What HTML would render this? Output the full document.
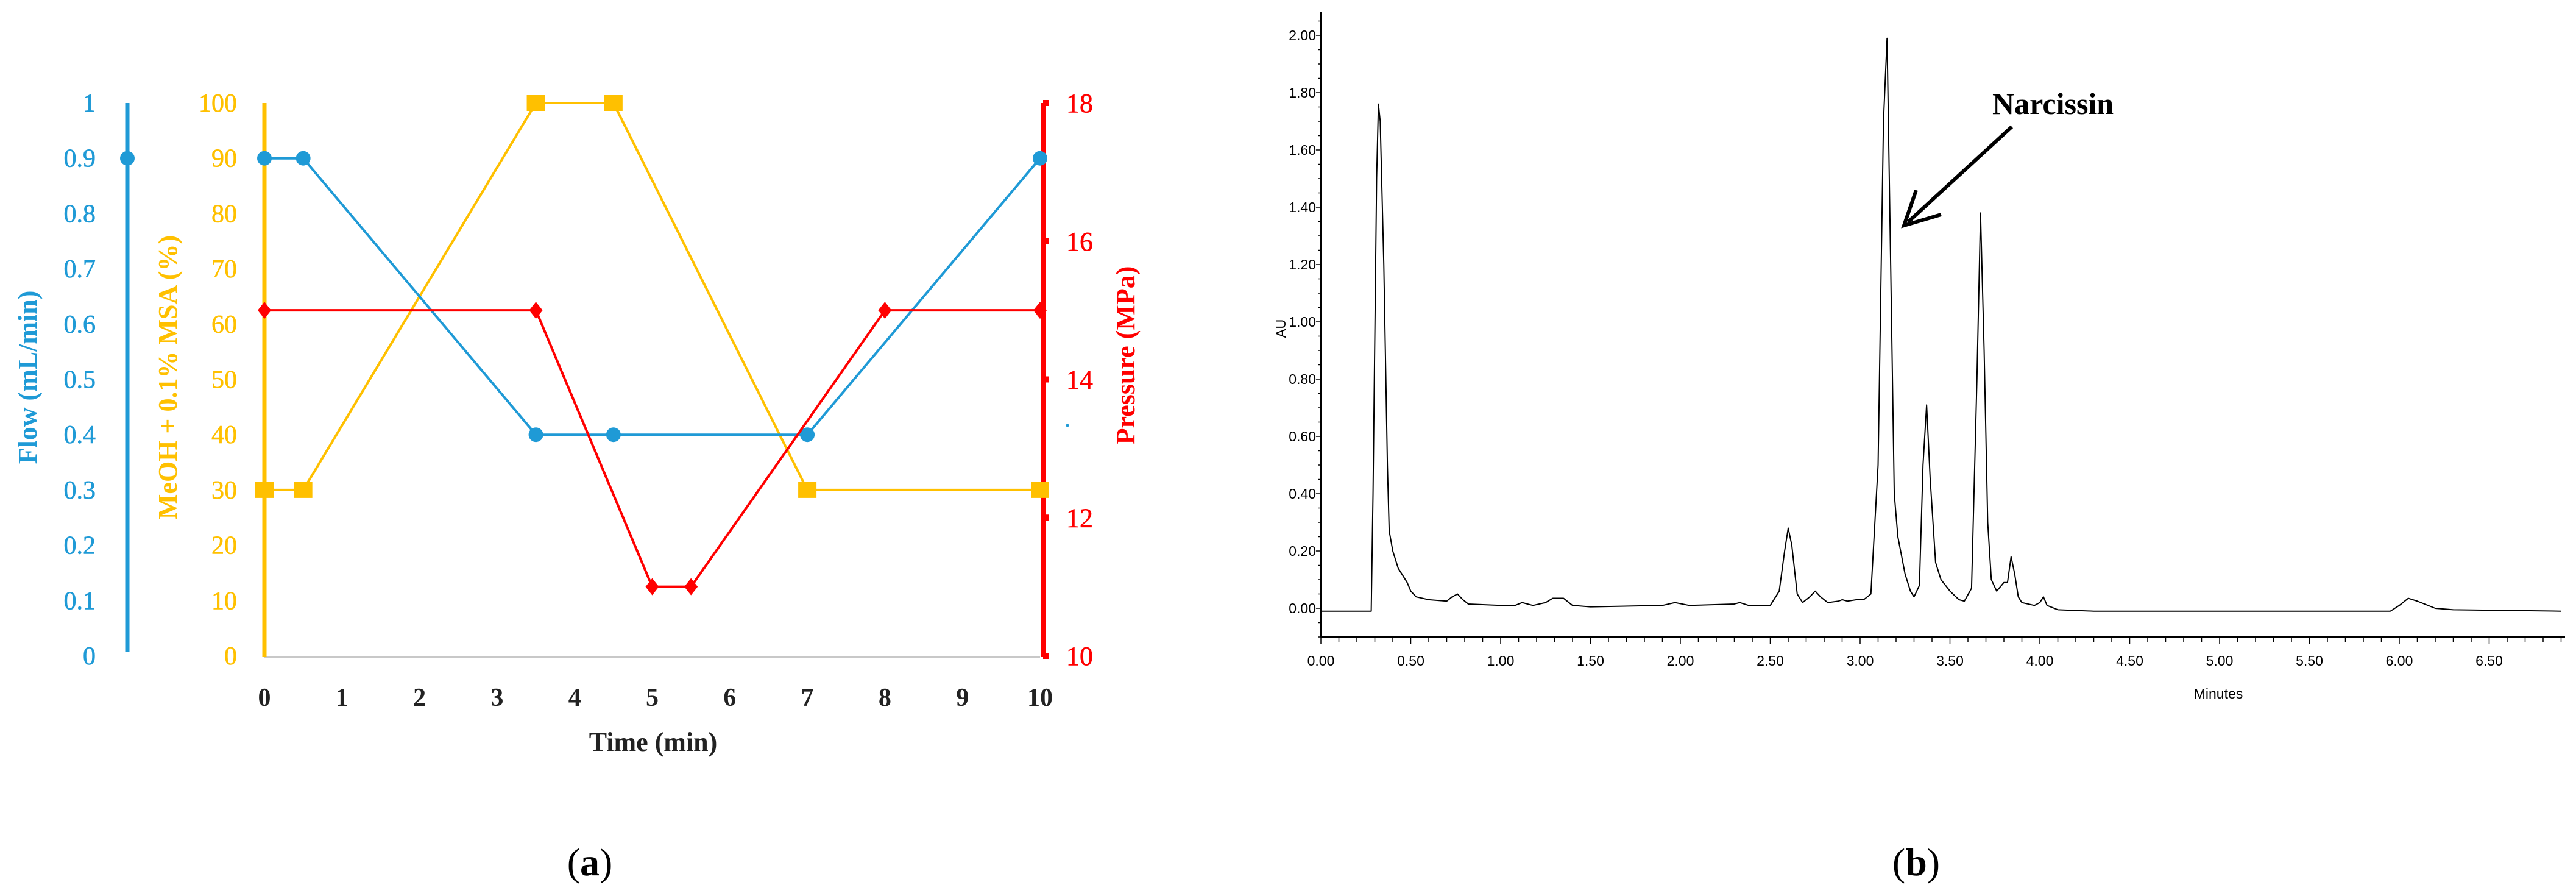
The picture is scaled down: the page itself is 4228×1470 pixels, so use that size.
<!DOCTYPE html>
<html><head><meta charset="utf-8"><style>
html,body{margin:0;padding:0;background:#fff}
svg{display:block}
</style></head><body>
<svg id="fig" width="4228" height="1470" viewBox="0 0 4228 1470" xmlns="http://www.w3.org/2000/svg">
<g id="pa"></g>
<g id="pb"></g>
</svg>
<script>
// ---- Panel (a) data ----
const timeTicks = [0,1,2,3,4,5,6,7,8,9,10];
const flowTicks = [0,0.1,0.2,0.3,0.4,0.5,0.6,0.7,0.8,0.9,1];
const meohTicks = [0,10,20,30,40,50,60,70,80,90,100];
const pressTicks = [10,12,14,16,18];
const flowT = [0,0.5,3.5,4.5,7,10];
const flowV = [0.9,0.9,0.4,0.4,0.4,0.9];
const meohT = [0,0.5,3.5,4.5,7,10];
const meohV = [30,30,100,100,30,30];
const pressT = [0,3.5,5,5.5,8,10];
const pressV = [15,15,11,11,15,15];
// ---- Panel (b) data ----
const minTicks = [0,0.5,1,1.5,2,2.5,3,3.5,4,4.5,5,5.5,6,6.5];
const minTickLabels = ["0.00","0.50","1.00","1.50","2.00","2.50","3.00","3.50","4.00","4.50","5.00","5.50","6.00","6.50"];
const auTicks = [0,0.2,0.4,0.6,0.8,1.0,1.2,1.4,1.6,1.8,2.0];
const auTickLabels = ["0.00","0.20","0.40","0.60","0.80","1.00","1.20","1.40","1.60","1.80","2.00"];
const traceT = [0,0.28,0.29,0.31,0.32,0.33,0.35,0.37,0.38,0.40,0.43,0.46,0.48,0.50,0.53,0.6,0.7,0.73,0.76,0.79,0.82,1.0,1.08,1.12,1.18,1.25,1.29,1.35,1.40,1.5,1.9,1.97,2.05,2.3,2.33,2.38,2.5,2.55,2.58,2.60,2.62,2.65,2.68,2.72,2.75,2.78,2.82,2.88,2.9,2.93,2.98,3.02,3.06,3.1,3.13,3.15,3.17,3.19,3.21,3.25,3.28,3.30,3.33,3.35,3.37,3.39,3.42,3.45,3.5,3.55,3.58,3.62,3.65,3.67,3.69,3.71,3.73,3.76,3.8,3.82,3.84,3.86,3.88,3.9,3.97,4.0,4.02,4.04,4.1,4.3,5.95,6.0,6.05,6.1,6.2,6.3,6.9];
const traceV = [-0.01,-0.01,0.4,1.5,1.76,1.7,1.2,0.5,0.27,0.2,0.14,0.11,0.09,0.06,0.04,0.03,0.025,0.04,0.05,0.03,0.015,0.01,0.01,0.02,0.01,0.02,0.035,0.035,0.01,0.005,0.01,0.02,0.01,0.015,0.02,0.01,0.01,0.06,0.2,0.28,0.22,0.05,0.02,0.04,0.06,0.04,0.02,0.025,0.03,0.025,0.03,0.03,0.05,0.5,1.7,1.99,1.2,0.4,0.25,0.12,0.06,0.04,0.08,0.5,0.71,0.45,0.16,0.1,0.06,0.03,0.025,0.07,0.8,1.38,0.9,0.3,0.1,0.06,0.09,0.09,0.18,0.12,0.04,0.02,0.01,0.02,0.04,0.01,-0.005,-0.01,-0.01,0.01,0.035,0.025,0.0,-0.005,-0.01];

const NS="http://www.w3.org/2000/svg";
function mk(parent,tag,attrs,text){const e=document.createElementNS(NS,tag);for(const k in attrs)e.setAttribute(k,attrs[k]);if(text!==undefined)e.textContent=text;parent.appendChild(e);return e;}

// ===== Panel (a) =====
const pa=document.getElementById('pa');
const ax0=434, ax1=1707, ayTop=169, ayBot=1076;
const xA=t=>ax0+(t/10)*(ax1-ax0);
const yFlow=v=>ayBot-(v/1)*(ayBot-ayTop);
const yMeoh=v=>ayBot-(v/100)*(ayBot-ayTop);
const yPress=v=>ayBot-((v-10)/8)*(ayBot-ayTop);
const BLUE="#1f9ad6", YEL="#ffc000", RED="#ff0000";
const serif='"Liberation Serif", serif';

let e;
e=mk(pa,'line',{x1:ax0,y1:ayBot+2,x2:ax1,y2:ayBot+2,stroke:'#c8c8c8','stroke-width':3});


e=mk(pa,'line',{x1:209,y1:ayTop,x2:209,y2:1069,stroke:BLUE,'stroke-width':7});


flowTicks.forEach(v=>{
  e=mk(pa,'text',{x:157,y:yFlow(v)+14,'text-anchor':'end','font-family':serif,'font-size':42,fill:BLUE,stroke:BLUE,'stroke-width':0.6},String(v));
  
  
});
e=mk(pa,'circle',{cx:209,cy:yFlow(0.9),r:12,fill:BLUE});


e=mk(pa,'text',{x:0,y:0,transform:'translate(60,619) rotate(-90)','text-anchor':'middle','font-family':serif,'font-size':44,'font-weight':'bold',fill:BLUE},'Flow (mL/min)');


e=mk(pa,'line',{x1:ax0,y1:ayTop,x2:ax0,y2:ayBot+2,stroke:YEL,'stroke-width':7});


meohTicks.forEach(v=>{
  e=mk(pa,'text',{x:389,y:yMeoh(v)+14,'text-anchor':'end','font-family':serif,'font-size':42,fill:YEL,stroke:YEL,'stroke-width':0.6},String(v));
  
  
});
e=mk(pa,'text',{x:0,y:0,transform:'translate(290,619) rotate(-90)','text-anchor':'middle','font-family':serif,'font-size':44,'font-weight':'bold',fill:YEL},'MeOH + 0.1% MSA (%)');


e=mk(pa,'line',{x1:1712,y1:ayTop,x2:1712,y2:ayBot+2,stroke:RED,'stroke-width':8});


pressTicks.forEach(v=>{
  e=mk(pa,'rect',{x:1712,y:yPress(v)-5,width:10,height:10,fill:RED});
  
  
  e=mk(pa,'text',{x:1750,y:yPress(v)+15,'text-anchor':'start','font-family':serif,'font-size':44,fill:RED,stroke:RED,'stroke-width':0.6},String(v));
  
  
});
e=mk(pa,'text',{x:0,y:0,transform:'translate(1862,583) rotate(-90)','text-anchor':'middle','font-family':serif,'font-size':44,'font-weight':'bold',fill:RED},'Pressure (MPa)');


e=mk(pa,'circle',{cx:1752,cy:698,r:2.5,fill:BLUE});


timeTicks.forEach(t=>{
  e=mk(pa,'text',{x:xA(t),y:1158,'text-anchor':'middle','font-family':serif,'font-size':42,'font-weight':'bold',fill:'#222'},String(t));
  
  
});
e=mk(pa,'text',{x:1072,y:1232,'text-anchor':'middle','font-family':serif,'font-size':44,'font-weight':'bold',fill:'#222'},'Time (min)');


function series(T,V,yf,col,name,marker){
  const pts=T.map((t,i)=>xA(t)+','+yf(V[i])).join(' ');
  let l=mk(pa,'polyline',{points:pts,fill:'none',stroke:col,'stroke-width':4});
  
  
  T.forEach((t,i)=>{
    const x=xA(t),y=yf(V[i]);let m;
    if(marker==='circle')m=mk(pa,'circle',{cx:x,cy:y,r:12,fill:col});
    else if(marker==='square')m=mk(pa,'rect',{x:x-15,y:y-13,width:30,height:26,fill:col});
    else m=mk(pa,'polygon',{points:`${x},${y-14} ${x+11},${y} ${x},${y+14} ${x-11},${y}`,fill:col});
    
    
  });
}
series(meohT,meohV,yMeoh,YEL,'meoh','square');
series(flowT,flowV,yFlow,BLUE,'flow','circle');
series(pressT,pressV,yPress,RED,'pressure','diamond');
e=mk(pa,'text',{x:968,y:1436,'text-anchor':'middle','font-family':serif,'font-size':64,fill:'#000'});
e.innerHTML='(<tspan font-weight="bold">a</tspan>)';



// ===== Panel (b) =====
const pb=document.getElementById('pb');
const bx0=2168, bxPerMin=295, by0=998, byPerAU=(998-58)/2;
const xB=t=>bx0+t*bxPerMin;
const yB=v=>by0-v*byPerAU;
const sans='"Liberation Sans Narrow","Liberation Sans", sans-serif';
e=mk(pb,'line',{x1:bx0,y1:19,x2:bx0,y2:1045,stroke:'#000','stroke-width':2});


e=mk(pb,'line',{x1:bx0,y1:1045,x2:4210,y2:1045,stroke:'#000','stroke-width':2});


for(let v=-0.1;v<=2.1;v+=0.05){
  const major=Math.abs(v*5-Math.round(v*5))<1e-6;
  e=mk(pb,'line',{x1:bx0-(major?8:5),y1:yB(v),x2:bx0,y2:yB(v),stroke:'#000','stroke-width':1.5});
  
  
}
auTicks.forEach((v,i)=>{
  e=mk(pb,'text',{x:2160,y:yB(v)+8,'text-anchor':'end','font-family':sans,'font-size':23,fill:'#000'},auTickLabels[i]);
  
  
});
for(let t=0;t<=6.9;t+=0.1){
  const major=Math.abs(t*2-Math.round(t*2))<1e-6;
  e=mk(pb,'line',{x1:xB(t),y1:1045,x2:xB(t),y2:1045+(major?12:8),stroke:'#000','stroke-width':1.5});
  
  
}
minTicks.forEach((t,i)=>{
  e=mk(pb,'text',{x:xB(t),y:1092,'text-anchor':'middle','font-family':sans,'font-size':23,fill:'#000'},minTickLabels[i]);
  
  
});
e=mk(pb,'text',{x:3641,y:1146,'text-anchor':'middle','font-family':sans,'font-size':23,fill:'#000'},'Minutes');


e=mk(pb,'text',{x:0,y:0,transform:'translate(2110,539) rotate(-90)','text-anchor':'middle','font-family':sans,'font-size':22,fill:'#000'},'AU');


e=mk(pb,'polyline',{points:traceT.map((t,i)=>xB(t)+','+yB(traceV[i])).join(' '),fill:'none',stroke:'#000','stroke-width':2,'stroke-linejoin':'round'});


e=mk(pb,'text',{x:3270,y:187,'font-family':serif,'font-size':50,'font-weight':'bold',fill:'#000'},'Narcissin');


e=mk(pb,'line',{x1:3302,y1:208,x2:3132,y2:364,stroke:'#000','stroke-width':6});


e=mk(pb,'polyline',{points:'3145,312 3125,370 3186,352',fill:'none',stroke:'#000','stroke-width':6});


e=mk(pb,'text',{x:3145,y:1436,'text-anchor':'middle','font-family':serif,'font-size':64,fill:'#000'});
e.innerHTML='(<tspan font-weight="bold">b</tspan>)';


</script>
</body></html>
